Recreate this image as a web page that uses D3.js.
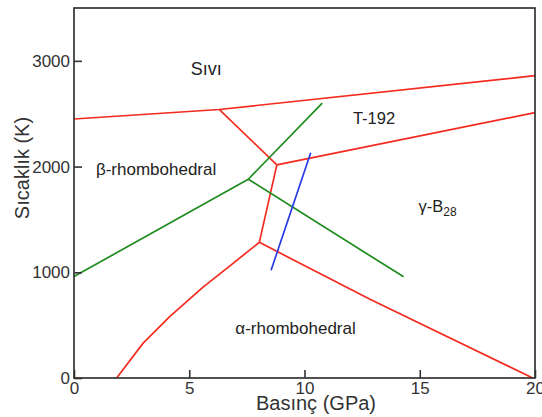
<!DOCTYPE html>
<html>
<head>
<meta charset="utf-8">
<script src="https://cdn.jsdelivr.net/npm/d3@7"></script>
<style>
  html, body { margin: 0; padding: 0; background: #fff; }
  svg { display: block; font-family: "Liberation Sans", Arial, Helvetica, sans-serif; }
</style>
</head>
<body>
<svg id="chart" width="542" height="417"></svg>
<script>
// Boron P–T phase diagram: pressure (GPa) vs temperature (K)
const xTicks = [0, 5, 10, 15, 20];
const yTicks = [0, 1000, 2000, 3000];

// Phase boundaries, [pressure, temperature]
const meltLine      = [[0, 2450], [6.3, 2540], [20, 2860]];
const betaT192      = [[6.3, 2540], [8.8, 2016]];
const t192Gamma     = [[8.8, 2016], [20, 2510]];
const alphaGammaUp  = [[8.8, 2016], [8.04, 1283]];
const alphaGammaLow = [[8.04, 1283], [12.84, 745], [19.9, 0]];
const alphaBeta     = [[1.85, 0], [3.0, 330], [4.15, 580], [5.6, 860], [6.9, 1085], [8.04, 1283]];
const greenLeft     = [[0, 960], [7.56, 1880]];
const greenUp       = [[7.56, 1880], [10.77, 2600]];
const greenDown     = [[7.56, 1880], [14.3, 957]];
const blueLine      = [[8.55, 1020], [10.27, 2130]];

const redSeries   = [meltLine, betaT192, t192Gamma, alphaGammaUp, alphaGammaLow, alphaBeta];
const greenSeries = [greenLeft, greenUp, greenDown];
const blueSeries  = [blueLine];

// Phase region labels: [text, subscript, pressure, temperature, font size]
const phaseLabels = [
  ["Sıvı", "", 5.07, 2870, 18],
  ["T-192", "", 12.1, 2400, 16.5],
  ["β-rhombohedral", "", 0.95, 1920, 17],
  ["γ-B", "28", 14.95, 1570, 16.5],
  ["α-rhombohedral", "", 7.0, 420, 17]
];

const xTitle = "Basınç (GPa)";
const yTitle = "Sıcaklık (K)";

const margin = { left: 74, top: 8, right: 7, bottom: 39 };
const W = 542, H = 417;
const svg = d3.select("#chart");

const x = d3.scaleLinear().domain([0, 20]).range([margin.left, W - margin.right]);
const y = d3.scaleLinear().domain([0, 3500]).range([H - margin.bottom, margin.top]);

const line = d3.line().x(d => x(d[0])).y(d => y(d[1]));

const drawSet = (series, color) => {
  svg.append("g").selectAll("path").data(series).join("path")
    .attr("d", line)
    .attr("fill", "none")
    .attr("stroke", color)
    .attr("stroke-width", 1.7)
    .attr("stroke-linejoin", "round");
};
drawSet(redSeries, "#f42a1e");
drawSet(greenSeries, "#1e8c1e");
drawSet(blueSeries, "#2a3ae8");

// Axes (ticks point inward)
const xAxis = d3.axisBottom(x).tickValues(xTicks).tickFormat(d3.format("d"))
  .tickSizeInner(-8).tickSizeOuter(0).tickPadding(4);
const yAxis = d3.axisLeft(y).tickValues(yTicks).tickFormat(d3.format("d"))
  .tickSizeInner(-8).tickSizeOuter(0).tickPadding(4);

const gx = svg.append("g").attr("transform", `translate(0,${y(0)})`).call(xAxis);
const gy = svg.append("g").attr("transform", `translate(${x(0)},0)`).call(yAxis);
[gx, gy].forEach(g => {
  g.select(".domain").remove();
  g.selectAll(".tick line").attr("stroke", "#333").attr("stroke-width", 1.6);
  g.selectAll(".tick text").attr("fill", "#333").attr("font-size", 17).attr("font-family", "Liberation Sans, Arial, sans-serif");
});

// Frame
svg.append("rect")
  .attr("x", x(0)).attr("y", y(3500))
  .attr("width", x(20) - x(0)).attr("height", y(0) - y(3500))
  .attr("fill", "none").attr("stroke", "#333").attr("stroke-width", 1.7);

// Axis titles
svg.append("text")
  .attr("x", 316).attr("y", 410)
  .attr("text-anchor", "middle").attr("font-size", 20).attr("fill", "#333")
  .text(xTitle);
svg.append("text")
  .attr("transform", "translate(29,168) rotate(-90)")
  .attr("text-anchor", "middle").attr("font-size", 20).attr("fill", "#333")
  .text(yTitle);

// Region labels
phaseLabels.forEach(([t, sub, px, py, fs]) => {
  const txt = svg.append("text")
    .attr("x", x(px)).attr("y", y(py))
    .attr("font-size", fs).attr("fill", "#222");
  txt.append("tspan").text(t);
  if (sub) txt.append("tspan").attr("dy", 4).attr("font-size", 12).text(sub);
});
</script>
</body>
</html>
